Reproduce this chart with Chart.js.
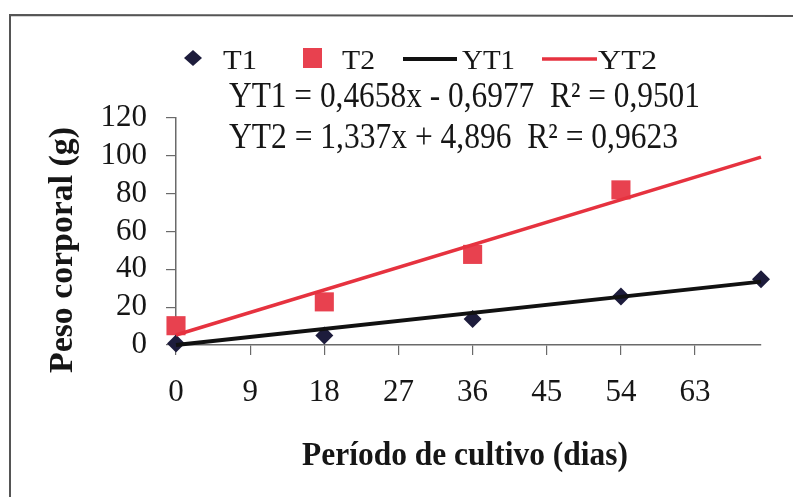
<!DOCTYPE html>
<html>
<head>
<meta charset="utf-8">
<title>Peso corporal</title>
<script src="https://cdn.jsdelivr.net/npm/chart.js@4/dist/chart.umd.min.js"></script>
<style>
    html, body { margin: 0; padding: 0; background: #ffffff; }
    #wrap { position: relative; width: 793px; height: 497px; }
</style>
</head>
<body>
<div id="wrap"><canvas id="growthChart" width="793" height="497"></canvas></div>
<script>
// Data
const days = [0, 18, 36, 54, 71];
const t1Weight = [0.8, 5, 13.7, 25.7, 34.7];
const t2Weight = [10.2, 22.8, 47.9, 82];
const trendDays = [0, 71];
const yt1Trend = [0, 33.5];
const yt2Trend = [5.3, 99.3];
const xTickValues = [0, 9, 18, 27, 36, 45, 54, 63];
const yTickValues = [0, 20, 40, 60, 80, 100, 120];

const legendLabels = ['T1', 'T2', 'YT1', 'YT2'];
const equationLines = [
    'YT1 = 0,4658x - 0,6977  R² = 0,9501',
    'YT2 = 1,337x + 4,896  R² = 0,9623'
];
const xTitle = 'Período de cultivo (dias)';
const yTitle = 'Peso corporal (g)';

const NAVY = '#1d1c3c';
const RED_FILL = '#e8414f';
const RED_LINE = '#e6323f';
const BLACK = '#111111';
const AXIS = '#6a6a6a';
const TEXT = '#161616';
const SERIF = '"Liberation Serif", "Times New Roman", serif';

function toPoints(xs, ys) {
    return ys.map((y, i) => ({ x: xs[i], y: y }));
}

// Draw text stretched/compressed to a given width
function drawFit(ctx, text, x, y, width, font, color, angle) {
    ctx.save();
    ctx.font = font;
    ctx.fillStyle = color;
    ctx.textBaseline = 'alphabetic';
    ctx.textAlign = 'left';
    const w = ctx.measureText(text).width;
    ctx.translate(x, y);
    if (angle) ctx.rotate(angle);
    ctx.scale(width / w, 1);
    ctx.fillText(text, 0, 0);
    ctx.restore();
}

// Frame, legend, equations and axis titles
const decorPlugin = {
    id: 'decor',
    afterDraw(chart) {
        const ctx = chart.ctx;
        ctx.save();

        // frame
        ctx.strokeStyle = '#555555';
        ctx.lineWidth = 2;
        ctx.beginPath();
        ctx.moveTo(10, 497);
        ctx.lineTo(10, 15);
        ctx.lineTo(793, 16);
        ctx.stroke();

        // legend markers
        ctx.fillStyle = NAVY;
        ctx.beginPath();
        ctx.moveTo(184, 58);
        ctx.lineTo(193, 50);
        ctx.lineTo(202, 58);
        ctx.lineTo(193, 66);
        ctx.closePath();
        ctx.fill();

        ctx.fillStyle = RED_FILL;
        ctx.fillRect(303, 48, 19, 20);

        ctx.lineWidth = 4;
        ctx.strokeStyle = BLACK;
        ctx.beginPath();
        ctx.moveTo(403, 59);
        ctx.lineTo(457, 59);
        ctx.stroke();

        ctx.lineWidth = 3.5;
        ctx.strokeStyle = RED_LINE;
        ctx.beginPath();
        ctx.moveTo(542, 59);
        ctx.lineTo(597, 59);
        ctx.stroke();
        ctx.restore();

        const legendFont = '28px ' + SERIF;
        drawFit(ctx, legendLabels[0], 223, 69, 34, legendFont, TEXT);
        drawFit(ctx, legendLabels[1], 342, 69, 33, legendFont, TEXT);
        drawFit(ctx, legendLabels[2], 462, 69, 53, legendFont, TEXT);
        drawFit(ctx, legendLabels[3], 598, 69, 59, legendFont, TEXT);

        // regression equations
        const eqFont = '35px ' + SERIF;
        drawFit(ctx, equationLines[0], 229, 107, 471, eqFont, TEXT);
        drawFit(ctx, equationLines[1], 229, 148, 449, eqFont, TEXT);

        // axis titles
        const titleFont = 'bold 33px ' + SERIF;
        drawFit(ctx, xTitle, 302, 465, 326, titleFont, TEXT);
        drawFit(ctx, yTitle, 72, 373, 246, titleFont, TEXT, -Math.PI / 2);
    }
};

function initChart() {
    const ctx = document.getElementById('growthChart');

    new Chart(ctx, {
        type: 'scatter',
        data: {
            datasets: [
                {
                    label: 'YT1',
                    type: 'line',
                    data: toPoints(trendDays, yt1Trend),
                    borderColor: BLACK,
                    borderWidth: 4,
                    pointRadius: 0,
                    fill: false,
                    clip: false,
                    order: 1
                },
                {
                    label: 'YT2',
                    type: 'line',
                    data: toPoints(trendDays, yt2Trend),
                    borderColor: RED_LINE,
                    borderWidth: 3.5,
                    pointRadius: 0,
                    fill: false,
                    clip: false,
                    order: 1
                },
                {
                    label: 'T1',
                    data: toPoints(days, t1Weight),
                    pointStyle: 'rectRot',
                    pointRadius: 9,
                    backgroundColor: NAVY,
                    borderColor: NAVY,
                    borderWidth: 0,
                    clip: false,
                    order: 2
                },
                {
                    label: 'T2',
                    data: toPoints(days, t2Weight),
                    pointStyle: 'rect',
                    pointRadius: 13.5,
                    backgroundColor: RED_FILL,
                    borderColor: RED_FILL,
                    borderWidth: 0,
                    clip: false,
                    order: 2
                }
            ]
        },
        options: {
            responsive: false,
            animation: false,
            events: [],
            layout: {
                padding: { left: 0, right: 32, top: 118, bottom: 0 }
            },
            plugins: {
                legend: { display: false },
                tooltip: { enabled: false }
            },
            scales: {
                x: {
                    type: 'linear',
                    min: 0,
                    max: 71,
                    afterFit(scale) { scale.height = 152; },
                    afterBuildTicks(scale) {
                        scale.ticks = xTickValues.map(v => ({ value: v }));
                    },
                    ticks: {
                        autoSkip: false,
                        padding: 19,
                        color: TEXT,
                        font: { family: SERIF, size: 31 },
                        maxRotation: 0
                    },
                    grid: {
                        drawOnChartArea: false,
                        tickLength: 10,
                        color: AXIS,
                        lineWidth: 1.2
                    },
                    border: { color: AXIS, width: 1.5 }
                },
                y: {
                    min: 0,
                    max: 120,
                    afterFit(scale) { scale.width = 176; },
                    afterBuildTicks(scale) {
                        scale.ticks = yTickValues.map(v => ({ value: v }));
                    },
                    ticks: {
                        autoSkip: false,
                        padding: 19,
                        color: TEXT,
                        font: { family: SERIF, size: 31, lineHeight: 1 }
                    },
                    grid: {
                        drawOnChartArea: false,
                        tickLength: 10,
                        color: AXIS,
                        lineWidth: 1.2
                    },
                    border: { color: AXIS, width: 1.5 }
                }
            }
        },
        plugins: [decorPlugin]
    });
}

document.addEventListener('DOMContentLoaded', initChart);
</script>
</body>
</html>
